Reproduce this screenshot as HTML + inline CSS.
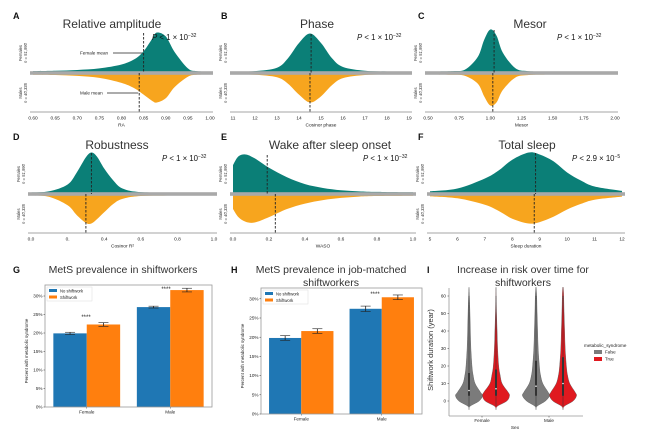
<!DOCTYPE html>
<html><head><meta charset="utf-8"><style>
html,body{margin:0;padding:0;background:#fff;}
svg{display:block;font-family:"Liberation Sans",sans-serif;}
</style></head><body>
<svg id="fig" width="645" height="437" viewBox="0 0 645 437" xmlns="http://www.w3.org/2000/svg"></svg>
<script>
// ---------- density panel data ----------
const aXs=[0.60,0.65,0.70,0.75,0.80,0.83,0.85,0.87,0.88,0.90,0.92,0.95,0.97,1.0];
const aFem=[.01,.02,.04,.08,.18,.32,.52,.85,1.0,.9,.5,.08,.01,0];
const aMal=[.01,.02,.05,.12,.3,.5,.72,.95,1.0,.85,.45,.08,.01,0];
const aMeans=[0.85,0.84];
const aTicks=[0.60,0.65,0.70,0.75,0.80,0.85,0.90,0.95,1.00];
const aTickLabels=["0.60","0.65","0.70","0.75","0.80","0.85","0.90","0.95","1.00"];
const bXs=[11,12,13,13.5,14,14.5,15,15.5,16,17,18,19];
const bFem=[0,.01,.1,.35,.75,1,.75,.35,.12,.02,0,0];
const bMal=[0,.01,.1,.33,.72,1,.78,.38,.13,.02,0,0];
const bMeans=[14.55,14.5];
const bTicks=[11,12,13,14,15,16,17,18,19];
const bTickLabels=["11","12","13","14","15","16","17","18","19"];
const cXs=[0.5,0.7,0.8,0.9,0.95,1.0,1.05,1.1,1.2,1.3,1.5,2.0];
const cFem=[0,.01,.05,.35,.75,1,.85,.45,.08,.01,0,0];
const cMal=[0,.01,.05,.3,.7,1,.9,.5,.1,.02,0,0];
const cMeans=[1.03,1.02];
const cTicks=[0.5,0.75,1.0,1.25,1.5,1.75,2.0];
const cTickLabels=["0.50","0.75","1.00","1.25","1.50","1.75","2.00"];
const dXs=[0,.1,.2,.25,.3,.33,.36,.4,.45,.5,.6,.8,1];
const dFem=[0,.03,.2,.5,.88,1,.9,.6,.3,.1,.01,0,0];
const dMal=[0,.05,.35,.7,.98,1,.85,.6,.3,.12,.02,0,0];
const dMeans=[0.33,0.30];
const dTicks=[0,0.2,0.4,0.6,0.8,1.0];
const dTickLabels=["0.0","0.","0.4","0.6","0.8","1.0"];
const eXs=[0,.03,.07,.12,.2,.3,.4,.5,.6,.7,.8,1];
const eFem=[.72,.95,1,.9,.65,.4,.22,.12,.06,.03,.015,.005];
const eMal=[.5,.8,.97,1,.8,.5,.3,.17,.09,.04,.02,.01];
const eMeans=[0.19,0.235];
const eTicks=[0,0.2,0.4,0.6,0.8,1.0];
const eTickLabels=["0.0","0.2","0.4","0.6","0.8","1.0"];
const fXs=[5,6,7,7.5,8,8.6,9,9.5,10,10.5,11,12];
const fFem=[.03,.1,.35,.55,.82,1,.95,.78,.5,.3,.15,.04];
const fMal=[.03,.1,.33,.55,.83,1,.95,.76,.5,.3,.15,.04];
const fMeans=[8.85,8.8];
const fTicks=[5,6,7,8,9,10,11,12];
const fTickLabels=["5","6","7","8","9","10","11","12"];
// ---------- bar data ----------
const barGroups=["Female","Male"];
const gNoShift=[19.9,27.0], gShift=[22.3,31.6], gNoErr=[0.3,0.25], gShErr=[0.5,0.5];
const hNoShift=[19.8,27.4], hShift=[21.6,30.4], hNoErr=[0.6,0.7], hShErr=[0.6,0.6];
const pctTicks=[0,5,10,15,20,25,30];
const pctTickLabels=["0%","5%","10%","15%","20%","25%","30%"];
// ---------- violin data ----------
const violinY=[-5,-3,0,3,5,10,15,20,30,40,50,60,65];
const vFemFalse=[0,.08,.75,1,.85,.45,.3,.22,.14,.1,.07,.03,0];
const vFemTrue=[0,.1,.8,1,.9,.45,.3,.2,.12,.08,.04,.01,0];
const vMalFalse=[0,.08,.7,1,.9,.5,.33,.25,.16,.12,.08,.05,.01];
const vMalTrue=[0,.1,.75,1,.9,.5,.33,.25,.16,.12,.08,.05,.02];
const vMedians=[6,7,8.5,10];
const vQ1=[3,3,3,3], vQ3=[16,18,23,25];
const yearTicks=[0,10,20,30,40,50,60];

const svg=document.getElementById('fig');
const NS="http://www.w3.org/2000/svg";
function mk(tag,attrs,parent){const e=document.createElementNS(NS,tag);for(const k in attrs)e.setAttribute(k,attrs[k]);(parent||svg).appendChild(e);return e;}
function txt(s,x,y,size,attrs,parent){const e=mk('text',Object.assign({x:x,y:y,'font-size':size,fill:'#222'},attrs||{}),parent);e.textContent=s;return e;}
function smooth(pts){let d="M"+pts[0][0]+","+pts[0][1];for(let i=0;i<pts.length-1;i++){const p0=pts[i-1]||pts[i],p1=pts[i],p2=pts[i+1],p3=pts[i+2]||p2;const c1x=p1[0]+(p2[0]-p0[0])/6,c1y=p1[1]+(p2[1]-p0[1])/6,c2x=p2[0]-(p3[0]-p1[0])/6,c2y=p2[1]-(p3[1]-p1[1])/6;d+=" C"+c1x+","+c1y+" "+c2x+","+c2y+" "+p2[0]+","+p2[1];}return d;}

function densityPanel(cfg){
  const g=mk('g',{});
  
  
  const sx=v=>cfg.x0+(v-cfg.d0)/(cfg.d1-cfg.d0)*(cfg.x1-cfg.x0);
  const cy=cfg.cy, ax=cy+39;
  let pts=cfg.xs.map((v,i)=>[sx(v),cy-1.5-cfg.fem[i]*cfg.fh]);
  let d=smooth(pts)+" L"+sx(cfg.xs[cfg.xs.length-1])+","+(cy-1.5)+" L"+sx(cfg.xs[0])+","+(cy-1.5)+"Z";
  const fp=mk('path',{d:d,fill:'#0b7f77'},g);
  
  
  pts=cfg.xs.map((v,i)=>[sx(v),cy+1.5+cfg.mal[i]*cfg.mh]);
  d=smooth(pts)+" L"+sx(cfg.xs[cfg.xs.length-1])+","+(cy+1.5)+" L"+sx(cfg.xs[0])+","+(cy+1.5)+"Z";
  const mp=mk('path',{d:d,fill:'#f7a51e'},g);
  
  
  const cl=mk('rect',{x:cfg.x0-3,y:cy-1.8,width:cfg.x1-cfg.x0+6,height:3.6,fill:'#a9a9a9'},g);
  
  
  mk('line',{x1:cfg.x0-3,x2:cfg.x1+3,y1:ax,y2:ax,stroke:'#888','stroke-width':0.8},g);
  const fm=mk('line',{x1:sx(cfg.means[0]),x2:sx(cfg.means[0]),y1:cy-cfg.fh-1,y2:cy,stroke:'#222','stroke-width':0.9,'stroke-dasharray':'2.5,1.5'},g);
  
  
  const mm=mk('line',{x1:sx(cfg.means[1]),x2:sx(cfg.means[1]),y1:cy,y2:ax,stroke:'#222','stroke-width':0.9,'stroke-dasharray':'2.5,1.5'},g);
  
  
  cfg.ticks.forEach((t,i)=>{const l=txt(cfg.tl[i],sx(t),ax+7.5,4.8,{'text-anchor':'middle'},g);});
  const xl=txt(cfg.xlabel,(cfg.x0+cfg.x1)/2,ax+14.5,4.8,{'text-anchor':'middle'},g);
  
  const ti=txt(cfg.title,cfg.tx,cfg.cy-45,12,{'text-anchor':'middle',fill:'#333'},g);
  
  const le=txt(cfg.letter,cfg.lx,cfg.cy-54,9,{'font-weight':'bold',fill:'#111'},g);
  
  const p=txt('',cfg.px,cfg.cy-33,7.8,{fill:'#111'},g);
  
  const t1=mk('tspan',{'font-style':'italic'},p);t1.textContent='P';
  const t2=mk('tspan',{},p);t2.textContent=' < '+cfg.pv+' × 10';
  const t3=mk('tspan',{'font-size':5,dy:-3},p);t3.textContent=cfg.pe;
  const yl=cfg.x0-9;
  [['Females','n = 51,990',cy-20],['Males','n = 40,335',cy+20]].forEach(a=>{
    const t=txt('',yl,a[2],4.2,{'text-anchor':'middle',transform:'rotate(-90 '+yl+' '+a[2]+')',fill:'#333'},g);
    
    const s1=mk('tspan',{x:yl,dy:-2},t);s1.textContent=a[0];
    const s2=mk('tspan',{x:yl,dy:5,'font-style':'italic'},t);s2.textContent=a[1];
  });
  return {g,sx,cy,ax};
}

const A=densityPanel({name:'panel-a-relative-amplitude',x0:33,x1:210,d0:0.6,d1:1.0,cy:73,fh:39,mh:28,xs:aXs,fem:aFem,mal:aMal,means:aMeans,ticks:aTicks,tl:aTickLabels,xlabel:'RA',title:'Relative amplitude',tx:112,letter:'A',lx:13,px:152,pv:'1',pe:'−32'});
[['Female mean',A.cy-20,A.sx(aMeans[0])],['Male mean',A.cy+20,A.sx(aMeans[1])]].forEach(a=>{
  const t=txt(a[0],80,a[1]+1.5,4.6,{fill:'#222'},A.g);
  
  mk('line',{x1:a[0]==='Female mean'?113:107,x2:a[2]-1,y1:a[1],y2:a[1],stroke:'#222','stroke-width':0.7},A.g);
});
densityPanel({name:'panel-b-phase',x0:233,x1:409,d0:11,d1:19,cy:73,fh:38,mh:28,xs:bXs,fem:bFem,mal:bMal,means:bMeans,ticks:bTicks,tl:bTickLabels,xlabel:'Cosinor phase',title:'Phase',tx:317,letter:'B',lx:221,px:357,pv:'1',pe:'−32'});
densityPanel({name:'panel-c-mesor',x0:428,x1:615,d0:0.5,d1:2.0,cy:73,fh:42,mh:31,xs:cXs,fem:cFem,mal:cMal,means:cMeans,ticks:cTicks,tl:cTickLabels,xlabel:'Mesor',title:'Mesor',tx:530,letter:'C',lx:418,px:557,pv:'1',pe:'−32'});
densityPanel({name:'panel-d-robustness',x0:31,x1:214,d0:0,d1:1,cy:194,fh:40,mh:28,xs:dXs,fem:dFem,mal:dMal,means:dMeans,ticks:dTicks,tl:dTickLabels,xlabel:'Cosinor R²',title:'Robustness',tx:117,letter:'D',lx:13,px:162,pv:'1',pe:'−32'});
densityPanel({name:'panel-e-waso',x0:233,x1:413,d0:0,d1:1,cy:194,fh:38,mh:27,xs:eXs,fem:eFem,mal:eMal,means:eMeans,ticks:eTicks,tl:eTickLabels,xlabel:'WASO',title:'Wake after sleep onset',tx:330,letter:'E',lx:221,px:363,pv:'1',pe:'−32'});
densityPanel({name:'panel-f-total-sleep',x0:430,x1:622,d0:5,d1:12,cy:194,fh:40,mh:28,xs:fXs,fem:fFem,mal:fMal,means:fMeans,ticks:fTicks,tl:fTickLabels,xlabel:'Sleep duration',title:'Total sleep',tx:527,letter:'F',lx:418,px:572,pv:'2.9',pe:'−5'});

// ---------- bar panels ----------
function barPanel(cfg){
  const g=mk('g',{});
  
  
  const W=cfg.r-cfg.l;
  const sy=v=>cfg.b-v*cfg.k;
  const bw=W*0.2;
  barGroups.forEach((grp,i)=>{
    const c=cfg.l+W*(0.25+0.5*i);
    [[cfg.no[i],cfg.noE[i],'#1f77b4',c-bw,'no-shiftwork-bar'],[cfg.sh[i],cfg.shE[i],'#ff7f0e',c,'shiftwork-bar']].forEach(b=>{
      const r=mk('rect',{x:b[3],y:sy(b[0]),width:bw,height:cfg.b-sy(b[0]),fill:b[2]},g);
      
      
      const ex=b[3]+bw/2;
      mk('line',{x1:ex,x2:ex,y1:sy(b[0]+b[1]),y2:sy(b[0]-b[1]),stroke:'#222','stroke-width':0.8},g);
      [b[0]+b[1],b[0]-b[1]].forEach(v=>mk('line',{x1:ex-5,x2:ex+5,y1:sy(v),y2:sy(v),stroke:'#222','stroke-width':0.6},g));
    });
    const tl=txt(grp,c,cfg.b+6.5,4.6,{'text-anchor':'middle'},g);
    
    mk('line',{x1:c,x2:c,y1:cfg.b,y2:cfg.b+1.5,stroke:'#333','stroke-width':0.5},g);
  });
  mk('rect',{x:cfg.l,y:cfg.t,width:W,height:cfg.b-cfg.t,fill:'none',stroke:'#999','stroke-width':0.8},g);
  pctTicks.forEach((t,i)=>{
    mk('line',{x1:cfg.l-1.5,x2:cfg.l,y1:sy(t),y2:sy(t),stroke:'#333','stroke-width':0.5},g);
    const l=txt(pctTickLabels[i],cfg.l-2.5,sy(t)+1.6,4.6,{'text-anchor':'end'},g);
    
  });
  const yx=cfg.l-17, ym=(cfg.t+cfg.b)/2+5;
  const yl=txt('Percent with metabolic syndrome',yx,ym,4.4,{'text-anchor':'middle',transform:'rotate(-90 '+yx+' '+ym+')'},g);
  
  const lg=mk('g',{},g);
  
  mk('rect',{x:cfg.l+2,y:cfg.t+2,width:45,height:14,fill:'#fff',stroke:'#ddd','stroke-width':0.5},lg);
  mk('rect',{x:cfg.l+4,y:cfg.t+4,width:8,height:3,fill:'#1f77b4'},lg);
  mk('rect',{x:cfg.l+4,y:cfg.t+10.5,width:8,height:3,fill:'#ff7f0e'},lg);
  txt('No shiftwork',cfg.l+15,cfg.t+7.3,4.2,{},lg);
  txt('Shiftwork',cfg.l+15,cfg.t+13.8,4.2,{},lg);
  cfg.stars.forEach(s=>{const t=txt('****',s[0],s[1],6,{'text-anchor':'middle'},g);});
  const le=txt(cfg.letter,cfg.lx,273,9,{'font-weight':'bold',fill:'#111'},g);
  
  cfg.title.forEach((s,i)=>{const t=txt(s,cfg.tx,273+i*13,10.5,{'text-anchor':'middle',fill:'#333'},g);});
}
barPanel({name:'panel-g-mets-prevalence',l:45,r:212,t:285,b:407,k:3.7,no:gNoShift,sh:gShift,noE:gNoErr,shE:gShErr,stars:[[86,319],[166,291]],letter:'G',lx:13,title:['MetS prevalence in shiftworkers'],tx:123});
barPanel({name:'panel-h-job-matched',l:261,r:422,t:288,b:414,k:3.84,no:hNoShift,sh:hShift,noE:hNoErr,shE:hShErr,stars:[[375,296]],letter:'H',lx:231,title:['MetS prevalence in  job-matched','shiftworkers'],tx:331});

// ---------- violin panel ----------
(function(){
  const g=mk('g',{});
  
  
  const L=449,B=416,R=583;
  const sy=v=>401-v*1.75;
  const maxHW=13.5;
  const groups=[[469,vFemFalse,'#7b7b7b','female-false'],[496,vFemTrue,'#e0191f','female-true'],[536,vMalFalse,'#7b7b7b','male-false'],[563,vMalTrue,'#e0191f','male-true']];
  groups.forEach((v,i)=>{
    const right=violinY.map((y,j)=>[v[0]+v[1][j]*maxHW,sy(y)]);
    const left=violinY.map((y,j)=>[v[0]-v[1][j]*maxHW,sy(y)]).reverse();
    const d=smooth(right)+" L"+left[0][0]+","+left[0][1]+smooth(left).replace(/^M[^ C]+/,'')+"Z";
    const p=mk('path',{d:d,fill:v[2],stroke:'#555','stroke-width':0.4},g);
    
    
    mk('line',{x1:v[0],x2:v[0],y1:sy(violinY[violinY.length-2]),y2:sy(-3),stroke:'#333','stroke-width':0.5},g);
    mk('rect',{x:v[0]-1,y:sy(vQ3[i]),width:2,height:sy(vQ1[i])-sy(vQ3[i]),fill:'#333'},g);
    mk('circle',{cx:v[0],cy:sy(vMedians[i]),r:0.8,fill:'#fff'},g);
  });
  mk('line',{x1:L,x2:L,y1:288,y2:B,stroke:'#999','stroke-width':0.8},g);
  mk('line',{x1:L,x2:R,y1:B,y2:B,stroke:'#999','stroke-width':0.8},g);
  yearTicks.forEach(t=>{
    mk('line',{x1:L-1.5,x2:L,y1:sy(t),y2:sy(t),stroke:'#333','stroke-width':0.5},g);
    const l=txt(String(t),L-3,sy(t)+1.6,4.6,{'text-anchor':'end'},g);
    
  });
  [['Female',482],['Male',549]].forEach(a=>{
    mk('line',{x1:a[1],x2:a[1],y1:B,y2:B+1.5,stroke:'#333','stroke-width':0.5},g);
    const l=txt(a[0],a[1],B+6,4.6,{'text-anchor':'middle'},g);
    
  });
  const xl=txt('Sex',515,B+13,4.8,{'text-anchor':'middle'},g);
  
  const yl=txt('Shiftwork duration (year)',433,350,7.5,{'text-anchor':'middle',transform:'rotate(-90 433 350)',fill:'#333'},g);
  
  const lg=mk('g',{},g);
  
  txt('metabolic_syndrome',584,347,4.6,{},lg);
  mk('rect',{x:594,y:350,width:8,height:4,fill:'#7b7b7b'},lg);
  mk('rect',{x:594,y:357,width:8,height:4,fill:'#e0191f'},lg);
  txt('False',605,353.5,4.4,{},lg);
  txt('True',605,360.5,4.4,{},lg);
  const le=txt('I',427,273,9,{'font-weight':'bold',fill:'#111'},g);
  
  ['Increase in risk over time for','shiftworkers'].forEach((s,i)=>{const t=txt(s,523,273+i*13,10.5,{'text-anchor':'middle',fill:'#333'},g);});
})();
</script>
</body></html>
